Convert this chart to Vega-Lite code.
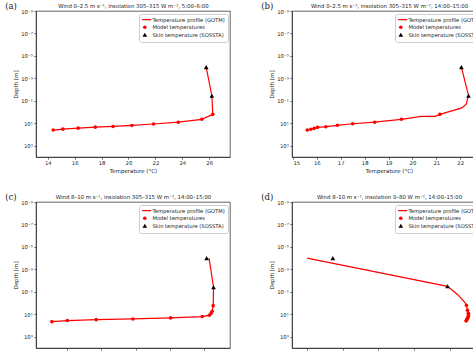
{
  "$schema": "https://vega.github.io/schema/vega-lite/v6.json",
  "padding": {"left": 4, "top": 1, "right": 0, "bottom": 0},
  "background": "white",
  "datasets": {
    "a": [
      {"s": "Temperature profile (GOTM)", "i": 0, "T": 25.78, "z": 0.0001},
      {"s": "Temperature profile (GOTM)", "i": 1, "T": 26.2, "z": 0.035},
      {"s": "Temperature profile (GOTM)", "i": 2, "T": 26.27, "z": 1.6},
      {"s": "Temperature profile (GOTM)", "i": 3, "T": 25.45, "z": 4.4},
      {"s": "Temperature profile (GOTM)", "i": 4, "T": 23.7, "z": 8},
      {"s": "Temperature profile (GOTM)", "i": 5, "T": 21.86, "z": 11.5},
      {"s": "Temperature profile (GOTM)", "i": 6, "T": 20.25, "z": 15.5},
      {"s": "Temperature profile (GOTM)", "i": 7, "T": 18.85, "z": 19},
      {"s": "Temperature profile (GOTM)", "i": 8, "T": 17.53, "z": 22},
      {"s": "Temperature profile (GOTM)", "i": 9, "T": 16.26, "z": 27},
      {"s": "Temperature profile (GOTM)", "i": 10, "T": 15.12, "z": 33},
      {"s": "Temperature profile (GOTM)", "i": 11, "T": 14.4, "z": 40},
      {"s": "Model temperatures", "T": 26.27, "z": 1.6},
      {"s": "Model temperatures", "T": 25.45, "z": 4.4},
      {"s": "Model temperatures", "T": 23.7, "z": 8},
      {"s": "Model temperatures", "T": 21.86, "z": 11.5},
      {"s": "Model temperatures", "T": 20.25, "z": 15.5},
      {"s": "Model temperatures", "T": 18.85, "z": 19},
      {"s": "Model temperatures", "T": 17.53, "z": 22},
      {"s": "Model temperatures", "T": 16.26, "z": 27},
      {"s": "Model temperatures", "T": 15.12, "z": 33},
      {"s": "Model temperatures", "T": 14.4, "z": 40},
      {"s": "Skin temperature (SOSSTA)", "T": 25.78, "z": 0.0001},
      {"s": "Skin temperature (SOSSTA)", "T": 26.2, "z": 0.035}
    ],
    "b": [
      {"s": "Temperature profile (GOTM)", "i": 0, "T": 22.05, "z": 0.0001},
      {"s": "Temperature profile (GOTM)", "i": 1, "T": 22.35, "z": 0.035},
      {"s": "Temperature profile (GOTM)", "i": 2, "T": 22.31, "z": 0.06},
      {"s": "Temperature profile (GOTM)", "i": 3, "T": 22.25, "z": 0.2},
      {"s": "Temperature profile (GOTM)", "i": 4, "T": 22.07, "z": 0.42},
      {"s": "Temperature profile (GOTM)", "i": 5, "T": 21.15, "z": 1.6},
      {"s": "Temperature profile (GOTM)", "i": 6, "T": 20.96, "z": 2.4},
      {"s": "Temperature profile (GOTM)", "i": 7, "T": 20.37, "z": 2.4},
      {"s": "Temperature profile (GOTM)", "i": 8, "T": 19.54, "z": 4.4},
      {"s": "Temperature profile (GOTM)", "i": 9, "T": 18.42, "z": 8},
      {"s": "Temperature profile (GOTM)", "i": 10, "T": 17.5, "z": 11},
      {"s": "Temperature profile (GOTM)", "i": 11, "T": 16.86, "z": 15},
      {"s": "Temperature profile (GOTM)", "i": 12, "T": 16.38, "z": 20},
      {"s": "Temperature profile (GOTM)", "i": 13, "T": 16.03, "z": 23},
      {"s": "Temperature profile (GOTM)", "i": 14, "T": 15.89, "z": 28},
      {"s": "Temperature profile (GOTM)", "i": 15, "T": 15.75, "z": 34},
      {"s": "Temperature profile (GOTM)", "i": 16, "T": 15.6, "z": 40},
      {"s": "Model temperatures", "T": 21.15, "z": 1.6},
      {"s": "Model temperatures", "T": 19.54, "z": 4.4},
      {"s": "Model temperatures", "T": 18.42, "z": 8},
      {"s": "Model temperatures", "T": 17.5, "z": 11},
      {"s": "Model temperatures", "T": 16.86, "z": 15},
      {"s": "Model temperatures", "T": 16.38, "z": 20},
      {"s": "Model temperatures", "T": 16.03, "z": 23},
      {"s": "Model temperatures", "T": 15.89, "z": 28},
      {"s": "Model temperatures", "T": 15.75, "z": 34},
      {"s": "Model temperatures", "T": 15.6, "z": 40},
      {"s": "Skin temperature (SOSSTA)", "T": 22.05, "z": 0.0001},
      {"s": "Skin temperature (SOSSTA)", "T": 22.35, "z": 0.035}
    ],
    "c": [
      {"s": "Temperature profile (GOTM)", "i": 0, "T": 23.14, "z": 0.0001},
      {"s": "Temperature profile (GOTM)", "i": 1, "T": 23.27, "z": 0.039},
      {"s": "Temperature profile (GOTM)", "i": 2, "T": 23.26, "z": 1.7},
      {"s": "Temperature profile (GOTM)", "i": 3, "T": 23.23, "z": 5.4},
      {"s": "Temperature profile (GOTM)", "i": 4, "T": 23.2, "z": 8},
      {"s": "Temperature profile (GOTM)", "i": 5, "T": 23.15, "z": 12},
      {"s": "Temperature profile (GOTM)", "i": 6, "T": 22.94, "z": 16},
      {"s": "Temperature profile (GOTM)", "i": 7, "T": 22.02, "z": 21},
      {"s": "Temperature profile (GOTM)", "i": 8, "T": 20.92, "z": 26},
      {"s": "Temperature profile (GOTM)", "i": 9, "T": 19.85, "z": 30},
      {"s": "Temperature profile (GOTM)", "i": 10, "T": 19.01, "z": 36},
      {"s": "Temperature profile (GOTM)", "i": 11, "T": 18.56, "z": 45},
      {"s": "Model temperatures", "T": 23.26, "z": 1.7},
      {"s": "Model temperatures", "T": 23.23, "z": 5.4},
      {"s": "Model temperatures", "T": 23.2, "z": 8},
      {"s": "Model temperatures", "T": 23.15, "z": 12},
      {"s": "Model temperatures", "T": 22.94, "z": 16},
      {"s": "Model temperatures", "T": 22.02, "z": 21},
      {"s": "Model temperatures", "T": 20.92, "z": 26},
      {"s": "Model temperatures", "T": 19.85, "z": 30},
      {"s": "Model temperatures", "T": 19.01, "z": 36},
      {"s": "Model temperatures", "T": 18.56, "z": 45},
      {"s": "Skin temperature (SOSSTA)", "T": 23.07, "z": 0.0001},
      {"s": "Skin temperature (SOSSTA)", "T": 23.27, "z": 0.039}
    ],
    "d": [
      {"s": "Temperature profile (GOTM)", "i": 0, "T": 17.2, "z": 0.0001},
      {"s": "Temperature profile (GOTM)", "i": 1, "T": 17.397, "z": 0.032},
      {"s": "Temperature profile (GOTM)", "i": 2, "T": 17.411, "z": 0.17},
      {"s": "Temperature profile (GOTM)", "i": 3, "T": 17.4215, "z": 0.9},
      {"s": "Temperature profile (GOTM)", "i": 4, "T": 17.4236, "z": 1.6},
      {"s": "Temperature profile (GOTM)", "i": 5, "T": 17.425, "z": 4.4},
      {"s": "Temperature profile (GOTM)", "i": 6, "T": 17.4262, "z": 8},
      {"s": "Temperature profile (GOTM)", "i": 7, "T": 17.4264, "z": 11},
      {"s": "Temperature profile (GOTM)", "i": 8, "T": 17.4262, "z": 15},
      {"s": "Temperature profile (GOTM)", "i": 9, "T": 17.4254, "z": 20},
      {"s": "Temperature profile (GOTM)", "i": 10, "T": 17.425, "z": 23},
      {"s": "Temperature profile (GOTM)", "i": 11, "T": 17.4243, "z": 28},
      {"s": "Temperature profile (GOTM)", "i": 12, "T": 17.4236, "z": 34},
      {"s": "Temperature profile (GOTM)", "i": 13, "T": 17.423, "z": 40},
      {"s": "Model temperatures", "T": 17.4236, "z": 1.6},
      {"s": "Model temperatures", "T": 17.425, "z": 4.4},
      {"s": "Model temperatures", "T": 17.4262, "z": 8},
      {"s": "Model temperatures", "T": 17.4264, "z": 11},
      {"s": "Model temperatures", "T": 17.4262, "z": 15},
      {"s": "Model temperatures", "T": 17.4254, "z": 20},
      {"s": "Model temperatures", "T": 17.425, "z": 23},
      {"s": "Model temperatures", "T": 17.4243, "z": 28},
      {"s": "Model temperatures", "T": 17.4236, "z": 34},
      {"s": "Model temperatures", "T": 17.423, "z": 40},
      {"s": "Skin temperature (SOSSTA)", "T": 17.236, "z": 0.0001},
      {"s": "Skin temperature (SOSSTA)", "T": 17.397, "z": 0.032}
    ]
  },
  "columns": 2,
  "spacing": {"row": 17, "column": 29},
  "resolve": {
    "scale": {"x": "independent", "y": "independent", "color": "independent", "shape": "independent"},
    "legend": {"color": "independent", "shape": "independent"}
  },
  "concat": [
    {
      "width": 194, "height": 146,
      "title": {"text": "(a)", "anchor": "start", "frame": "bounds", "font": "DejaVu Serif", "fontSize": 8.5, "fontWeight": "normal", "offset": 0, "dy": 6.5, "dx": -8, "color": "#222"},
      "data": {"name": "a"},
      "layer": [
        {
          "transform": [{"filter": "datum.s === 'Temperature profile (GOTM)'"}],
          "mark": {"type": "line", "strokeWidth": 1.2, "color": "#ff0000"},
          "encoding": {
            "x": {"field": "T", "type": "quantitative", "scale": {"domain": [13.12, 27.55], "nice": false, "zero": false}, "axis": {"orient": "bottom", "title": "Temperature (°C)", "values": [14, 16, 18, 20, 22, 24, 26]}},
            "y": {"field": "z", "type": "quantitative", "scale": {"type": "log", "domain": [1e-9, 10000], "reverse": true, "nice": false}, "axis": {"orient": "left", "title": "Depth [m]", "values": [1e-9, 1e-7, 1e-5, 0.001, 0.1, 10, 1000], "labelExpr": "'10' + replace(replace(replace(replace(replace(replace('' + round(log(datum.value)/LN10), '-', '⁻'), '1', '¹'), '3', '³'), '5', '⁵'), '7', '⁷'), '9', '⁹')"}},
            "order": {"field": "i", "type": "quantitative"},
            "color": {"field": "s", "type": "nominal", "scale": {"domain": ["Temperature profile (GOTM)", "Model temperatures", "Skin temperature (SOSSTA)"], "range": ["#ff0000", "#ff0000", "#000000"]}, "legend": {"title": null, "encode": {"symbols": {"update": {"size": {"signal": "datum.value === 'Temperature profile (GOTM)' ? 169 : datum.value === 'Model temperatures' ? 13 : 22"}, "strokeWidth": {"signal": "datum.value === 'Temperature profile (GOTM)' ? 1.3 : 0"}, "stroke": {"signal": "datum.value === 'Skin temperature (SOSSTA)' ? '#000000' : '#ff0000'"}, "fill": {"signal": "datum.value === 'Skin temperature (SOSSTA)' ? '#000000' : '#ff0000'"}}}}}}
          }
        },
        {
          "transform": [{"filter": "datum.s === 'Model temperatures'"}],
          "mark": {"type": "point", "filled": true, "size": 13, "opacity": 1},
          "encoding": {
            "x": {"field": "T", "type": "quantitative", "axis": null},
            "y": {"field": "z", "type": "quantitative", "axis": {"orient": "left", "title": "Depth [m]", "values": [1e-9, 1e-7, 1e-5, 0.001, 0.1, 10, 1000], "labelExpr": "'10' + replace(replace(replace(replace(replace(replace('' + round(log(datum.value)/LN10), '-', '⁻'), '1', '¹'), '3', '³'), '5', '⁵'), '7', '⁷'), '9', '⁹')"}},
            "color": {"field": "s", "type": "nominal", "scale": {"domain": ["Temperature profile (GOTM)", "Model temperatures", "Skin temperature (SOSSTA)"], "range": ["#ff0000", "#ff0000", "#000000"]}, "legend": {"title": null, "encode": {"symbols": {"update": {"size": {"signal": "datum.value === 'Temperature profile (GOTM)' ? 169 : datum.value === 'Model temperatures' ? 13 : 22"}, "strokeWidth": {"signal": "datum.value === 'Temperature profile (GOTM)' ? 1.3 : 0"}, "stroke": {"signal": "datum.value === 'Skin temperature (SOSSTA)' ? '#000000' : '#ff0000'"}, "fill": {"signal": "datum.value === 'Skin temperature (SOSSTA)' ? '#000000' : '#ff0000'"}}}}}},
            "shape": {"field": "s", "type": "nominal", "scale": {"domain": ["Temperature profile (GOTM)", "Model temperatures", "Skin temperature (SOSSTA)"], "range": ["stroke", "circle", "triangle-up"]}, "legend": {"title": null, "encode": {"symbols": {"update": {"size": {"signal": "datum.value === 'Temperature profile (GOTM)' ? 169 : datum.value === 'Model temperatures' ? 13 : 22"}, "strokeWidth": {"signal": "datum.value === 'Temperature profile (GOTM)' ? 1.3 : 0"}, "stroke": {"signal": "datum.value === 'Skin temperature (SOSSTA)' ? '#000000' : '#ff0000'"}, "fill": {"signal": "datum.value === 'Skin temperature (SOSSTA)' ? '#000000' : '#ff0000'"}}}}}}
          }
        },
        {
          "transform": [{"filter": "datum.s === 'Skin temperature (SOSSTA)'"}],
          "mark": {"type": "point", "filled": true, "size": 22, "opacity": 1},
          "encoding": {
            "x": {"field": "T", "type": "quantitative", "axis": {"orient": "top", "title": "Wind 0–2.5 m s⁻¹, insolation 305–315 W m⁻², 5:00–6:00", "labels": false, "ticks": false, "domain": false, "titlePadding": 2.5}},
            "y": {"field": "z", "type": "quantitative", "axis": {"orient": "left", "title": "Depth [m]", "values": [1e-9, 1e-7, 1e-5, 0.001, 0.1, 10, 1000], "labelExpr": "'10' + replace(replace(replace(replace(replace(replace('' + round(log(datum.value)/LN10), '-', '⁻'), '1', '¹'), '3', '³'), '5', '⁵'), '7', '⁷'), '9', '⁹')"}},
            "color": {"field": "s", "type": "nominal", "scale": {"domain": ["Temperature profile (GOTM)", "Model temperatures", "Skin temperature (SOSSTA)"], "range": ["#ff0000", "#ff0000", "#000000"]}, "legend": {"title": null, "encode": {"symbols": {"update": {"size": {"signal": "datum.value === 'Temperature profile (GOTM)' ? 169 : datum.value === 'Model temperatures' ? 13 : 22"}, "strokeWidth": {"signal": "datum.value === 'Temperature profile (GOTM)' ? 1.3 : 0"}, "stroke": {"signal": "datum.value === 'Skin temperature (SOSSTA)' ? '#000000' : '#ff0000'"}, "fill": {"signal": "datum.value === 'Skin temperature (SOSSTA)' ? '#000000' : '#ff0000'"}}}}}},
            "shape": {"field": "s", "type": "nominal", "scale": {"domain": ["Temperature profile (GOTM)", "Model temperatures", "Skin temperature (SOSSTA)"], "range": ["stroke", "circle", "triangle-up"]}, "legend": {"title": null, "encode": {"symbols": {"update": {"size": {"signal": "datum.value === 'Temperature profile (GOTM)' ? 169 : datum.value === 'Model temperatures' ? 13 : 22"}, "strokeWidth": {"signal": "datum.value === 'Temperature profile (GOTM)' ? 1.3 : 0"}, "stroke": {"signal": "datum.value === 'Skin temperature (SOSSTA)' ? '#000000' : '#ff0000'"}, "fill": {"signal": "datum.value === 'Skin temperature (SOSSTA)' ? '#000000' : '#ff0000'"}}}}}}
          }
        }
      ]
    },
    {
      "width": 194, "height": 146,
      "title": {"text": "(b)", "anchor": "start", "frame": "bounds", "font": "DejaVu Serif", "fontSize": 8.5, "fontWeight": "normal", "offset": 0, "dy": 6.5, "dx": -8, "color": "#222"},
      "data": {"name": "b"},
      "layer": [
        {
          "transform": [{"filter": "datum.s === 'Temperature profile (GOTM)'"}],
          "mark": {"type": "line", "strokeWidth": 1.2, "color": "#ff0000"},
          "encoding": {
            "x": {"field": "T", "type": "quantitative", "scale": {"domain": [14.96, 23.08], "nice": false, "zero": false}, "axis": {"orient": "bottom", "title": "Temperature (°C)", "values": [15, 16, 17, 18, 19, 20, 21, 22]}},
            "y": {"field": "z", "type": "quantitative", "scale": {"type": "log", "domain": [1e-9, 10000], "reverse": true, "nice": false}, "axis": {"orient": "left", "title": "Depth [m]", "values": [1e-9, 1e-7, 1e-5, 0.001, 0.1, 10, 1000], "labelExpr": "'10' + replace(replace(replace(replace(replace(replace('' + round(log(datum.value)/LN10), '-', '⁻'), '1', '¹'), '3', '³'), '5', '⁵'), '7', '⁷'), '9', '⁹')"}},
            "order": {"field": "i", "type": "quantitative"},
            "color": {"field": "s", "type": "nominal", "scale": {"domain": ["Temperature profile (GOTM)", "Model temperatures", "Skin temperature (SOSSTA)"], "range": ["#ff0000", "#ff0000", "#000000"]}, "legend": {"title": null, "encode": {"symbols": {"update": {"size": {"signal": "datum.value === 'Temperature profile (GOTM)' ? 169 : datum.value === 'Model temperatures' ? 13 : 22"}, "strokeWidth": {"signal": "datum.value === 'Temperature profile (GOTM)' ? 1.3 : 0"}, "stroke": {"signal": "datum.value === 'Skin temperature (SOSSTA)' ? '#000000' : '#ff0000'"}, "fill": {"signal": "datum.value === 'Skin temperature (SOSSTA)' ? '#000000' : '#ff0000'"}}}}}}
          }
        },
        {
          "transform": [{"filter": "datum.s === 'Model temperatures'"}],
          "mark": {"type": "point", "filled": true, "size": 13, "opacity": 1},
          "encoding": {
            "x": {"field": "T", "type": "quantitative", "axis": null},
            "y": {"field": "z", "type": "quantitative", "axis": {"orient": "left", "title": "Depth [m]", "values": [1e-9, 1e-7, 1e-5, 0.001, 0.1, 10, 1000], "labelExpr": "'10' + replace(replace(replace(replace(replace(replace('' + round(log(datum.value)/LN10), '-', '⁻'), '1', '¹'), '3', '³'), '5', '⁵'), '7', '⁷'), '9', '⁹')"}},
            "color": {"field": "s", "type": "nominal", "scale": {"domain": ["Temperature profile (GOTM)", "Model temperatures", "Skin temperature (SOSSTA)"], "range": ["#ff0000", "#ff0000", "#000000"]}, "legend": {"title": null, "encode": {"symbols": {"update": {"size": {"signal": "datum.value === 'Temperature profile (GOTM)' ? 169 : datum.value === 'Model temperatures' ? 13 : 22"}, "strokeWidth": {"signal": "datum.value === 'Temperature profile (GOTM)' ? 1.3 : 0"}, "stroke": {"signal": "datum.value === 'Skin temperature (SOSSTA)' ? '#000000' : '#ff0000'"}, "fill": {"signal": "datum.value === 'Skin temperature (SOSSTA)' ? '#000000' : '#ff0000'"}}}}}},
            "shape": {"field": "s", "type": "nominal", "scale": {"domain": ["Temperature profile (GOTM)", "Model temperatures", "Skin temperature (SOSSTA)"], "range": ["stroke", "circle", "triangle-up"]}, "legend": {"title": null, "encode": {"symbols": {"update": {"size": {"signal": "datum.value === 'Temperature profile (GOTM)' ? 169 : datum.value === 'Model temperatures' ? 13 : 22"}, "strokeWidth": {"signal": "datum.value === 'Temperature profile (GOTM)' ? 1.3 : 0"}, "stroke": {"signal": "datum.value === 'Skin temperature (SOSSTA)' ? '#000000' : '#ff0000'"}, "fill": {"signal": "datum.value === 'Skin temperature (SOSSTA)' ? '#000000' : '#ff0000'"}}}}}}
          }
        },
        {
          "transform": [{"filter": "datum.s === 'Skin temperature (SOSSTA)'"}],
          "mark": {"type": "point", "filled": true, "size": 22, "opacity": 1},
          "encoding": {
            "x": {"field": "T", "type": "quantitative", "axis": {"orient": "top", "title": "Wind 0–2.5 m s⁻¹, insolation 305–315 W m⁻², 14:00–15:00", "labels": false, "ticks": false, "domain": false, "titlePadding": 2.5}},
            "y": {"field": "z", "type": "quantitative", "axis": {"orient": "left", "title": "Depth [m]", "values": [1e-9, 1e-7, 1e-5, 0.001, 0.1, 10, 1000], "labelExpr": "'10' + replace(replace(replace(replace(replace(replace('' + round(log(datum.value)/LN10), '-', '⁻'), '1', '¹'), '3', '³'), '5', '⁵'), '7', '⁷'), '9', '⁹')"}},
            "color": {"field": "s", "type": "nominal", "scale": {"domain": ["Temperature profile (GOTM)", "Model temperatures", "Skin temperature (SOSSTA)"], "range": ["#ff0000", "#ff0000", "#000000"]}, "legend": {"title": null, "encode": {"symbols": {"update": {"size": {"signal": "datum.value === 'Temperature profile (GOTM)' ? 169 : datum.value === 'Model temperatures' ? 13 : 22"}, "strokeWidth": {"signal": "datum.value === 'Temperature profile (GOTM)' ? 1.3 : 0"}, "stroke": {"signal": "datum.value === 'Skin temperature (SOSSTA)' ? '#000000' : '#ff0000'"}, "fill": {"signal": "datum.value === 'Skin temperature (SOSSTA)' ? '#000000' : '#ff0000'"}}}}}},
            "shape": {"field": "s", "type": "nominal", "scale": {"domain": ["Temperature profile (GOTM)", "Model temperatures", "Skin temperature (SOSSTA)"], "range": ["stroke", "circle", "triangle-up"]}, "legend": {"title": null, "encode": {"symbols": {"update": {"size": {"signal": "datum.value === 'Temperature profile (GOTM)' ? 169 : datum.value === 'Model temperatures' ? 13 : 22"}, "strokeWidth": {"signal": "datum.value === 'Temperature profile (GOTM)' ? 1.3 : 0"}, "stroke": {"signal": "datum.value === 'Skin temperature (SOSSTA)' ? '#000000' : '#ff0000'"}, "fill": {"signal": "datum.value === 'Skin temperature (SOSSTA)' ? '#000000' : '#ff0000'"}}}}}}
          }
        }
      ]
    },
    {
      "width": 194, "height": 146,
      "title": {"text": "(c)", "anchor": "start", "frame": "bounds", "font": "DejaVu Serif", "fontSize": 8.5, "fontWeight": "normal", "offset": 0, "dy": 6.5, "dx": -8, "color": "#222"},
      "data": {"name": "c"},
      "layer": [
        {
          "transform": [{"filter": "datum.s === 'Temperature profile (GOTM)'"}],
          "mark": {"type": "line", "strokeWidth": 1.2, "color": "#ff0000"},
          "encoding": {
            "x": {"field": "T", "type": "quantitative", "scale": {"domain": [18.096, 23.75], "nice": false, "zero": false}, "axis": {"orient": "bottom", "title": "Temperature (°C)", "values": [19, 20, 21, 22, 23]}},
            "y": {"field": "z", "type": "quantitative", "scale": {"type": "log", "domain": [1e-9, 10000], "reverse": true, "nice": false}, "axis": {"orient": "left", "title": "Depth [m]", "values": [1e-9, 1e-7, 1e-5, 0.001, 0.1, 10, 1000], "labelExpr": "'10' + replace(replace(replace(replace(replace(replace('' + round(log(datum.value)/LN10), '-', '⁻'), '1', '¹'), '3', '³'), '5', '⁵'), '7', '⁷'), '9', '⁹')"}},
            "order": {"field": "i", "type": "quantitative"},
            "color": {"field": "s", "type": "nominal", "scale": {"domain": ["Temperature profile (GOTM)", "Model temperatures", "Skin temperature (SOSSTA)"], "range": ["#ff0000", "#ff0000", "#000000"]}, "legend": {"title": null, "encode": {"symbols": {"update": {"size": {"signal": "datum.value === 'Temperature profile (GOTM)' ? 169 : datum.value === 'Model temperatures' ? 13 : 22"}, "strokeWidth": {"signal": "datum.value === 'Temperature profile (GOTM)' ? 1.3 : 0"}, "stroke": {"signal": "datum.value === 'Skin temperature (SOSSTA)' ? '#000000' : '#ff0000'"}, "fill": {"signal": "datum.value === 'Skin temperature (SOSSTA)' ? '#000000' : '#ff0000'"}}}}}}
          }
        },
        {
          "transform": [{"filter": "datum.s === 'Model temperatures'"}],
          "mark": {"type": "point", "filled": true, "size": 13, "opacity": 1},
          "encoding": {
            "x": {"field": "T", "type": "quantitative", "axis": null},
            "y": {"field": "z", "type": "quantitative", "axis": {"orient": "left", "title": "Depth [m]", "values": [1e-9, 1e-7, 1e-5, 0.001, 0.1, 10, 1000], "labelExpr": "'10' + replace(replace(replace(replace(replace(replace('' + round(log(datum.value)/LN10), '-', '⁻'), '1', '¹'), '3', '³'), '5', '⁵'), '7', '⁷'), '9', '⁹')"}},
            "color": {"field": "s", "type": "nominal", "scale": {"domain": ["Temperature profile (GOTM)", "Model temperatures", "Skin temperature (SOSSTA)"], "range": ["#ff0000", "#ff0000", "#000000"]}, "legend": {"title": null, "encode": {"symbols": {"update": {"size": {"signal": "datum.value === 'Temperature profile (GOTM)' ? 169 : datum.value === 'Model temperatures' ? 13 : 22"}, "strokeWidth": {"signal": "datum.value === 'Temperature profile (GOTM)' ? 1.3 : 0"}, "stroke": {"signal": "datum.value === 'Skin temperature (SOSSTA)' ? '#000000' : '#ff0000'"}, "fill": {"signal": "datum.value === 'Skin temperature (SOSSTA)' ? '#000000' : '#ff0000'"}}}}}},
            "shape": {"field": "s", "type": "nominal", "scale": {"domain": ["Temperature profile (GOTM)", "Model temperatures", "Skin temperature (SOSSTA)"], "range": ["stroke", "circle", "triangle-up"]}, "legend": {"title": null, "encode": {"symbols": {"update": {"size": {"signal": "datum.value === 'Temperature profile (GOTM)' ? 169 : datum.value === 'Model temperatures' ? 13 : 22"}, "strokeWidth": {"signal": "datum.value === 'Temperature profile (GOTM)' ? 1.3 : 0"}, "stroke": {"signal": "datum.value === 'Skin temperature (SOSSTA)' ? '#000000' : '#ff0000'"}, "fill": {"signal": "datum.value === 'Skin temperature (SOSSTA)' ? '#000000' : '#ff0000'"}}}}}}
          }
        },
        {
          "transform": [{"filter": "datum.s === 'Skin temperature (SOSSTA)'"}],
          "mark": {"type": "point", "filled": true, "size": 22, "opacity": 1},
          "encoding": {
            "x": {"field": "T", "type": "quantitative", "axis": {"orient": "top", "title": "Wind 8–10 m s⁻¹, insolation 305–315 W m⁻², 14:00–15:00", "labels": false, "ticks": false, "domain": false, "titlePadding": 2.5}},
            "y": {"field": "z", "type": "quantitative", "axis": {"orient": "left", "title": "Depth [m]", "values": [1e-9, 1e-7, 1e-5, 0.001, 0.1, 10, 1000], "labelExpr": "'10' + replace(replace(replace(replace(replace(replace('' + round(log(datum.value)/LN10), '-', '⁻'), '1', '¹'), '3', '³'), '5', '⁵'), '7', '⁷'), '9', '⁹')"}},
            "color": {"field": "s", "type": "nominal", "scale": {"domain": ["Temperature profile (GOTM)", "Model temperatures", "Skin temperature (SOSSTA)"], "range": ["#ff0000", "#ff0000", "#000000"]}, "legend": {"title": null, "encode": {"symbols": {"update": {"size": {"signal": "datum.value === 'Temperature profile (GOTM)' ? 169 : datum.value === 'Model temperatures' ? 13 : 22"}, "strokeWidth": {"signal": "datum.value === 'Temperature profile (GOTM)' ? 1.3 : 0"}, "stroke": {"signal": "datum.value === 'Skin temperature (SOSSTA)' ? '#000000' : '#ff0000'"}, "fill": {"signal": "datum.value === 'Skin temperature (SOSSTA)' ? '#000000' : '#ff0000'"}}}}}},
            "shape": {"field": "s", "type": "nominal", "scale": {"domain": ["Temperature profile (GOTM)", "Model temperatures", "Skin temperature (SOSSTA)"], "range": ["stroke", "circle", "triangle-up"]}, "legend": {"title": null, "encode": {"symbols": {"update": {"size": {"signal": "datum.value === 'Temperature profile (GOTM)' ? 169 : datum.value === 'Model temperatures' ? 13 : 22"}, "strokeWidth": {"signal": "datum.value === 'Temperature profile (GOTM)' ? 1.3 : 0"}, "stroke": {"signal": "datum.value === 'Skin temperature (SOSSTA)' ? '#000000' : '#ff0000'"}, "fill": {"signal": "datum.value === 'Skin temperature (SOSSTA)' ? '#000000' : '#ff0000'"}}}}}}
          }
        }
      ]
    },
    {
      "width": 194, "height": 146,
      "title": {"text": "(d)", "anchor": "start", "frame": "bounds", "font": "DejaVu Serif", "fontSize": 8.5, "fontWeight": "normal", "offset": 0, "dy": 6.5, "dx": -8, "color": "#222"},
      "data": {"name": "d"},
      "layer": [
        {
          "transform": [{"filter": "datum.s === 'Temperature profile (GOTM)'"}],
          "mark": {"type": "line", "strokeWidth": 1.2, "color": "#ff0000"},
          "encoding": {
            "x": {"field": "T", "type": "quantitative", "scale": {"domain": [17.1787, 17.451], "nice": false, "zero": false}, "axis": {"orient": "bottom", "title": "Temperature (°C)", "values": [17.2, 17.25, 17.3, 17.35, 17.4], "format": ".2f"}},
            "y": {"field": "z", "type": "quantitative", "scale": {"type": "log", "domain": [1e-9, 10000], "reverse": true, "nice": false}, "axis": {"orient": "left", "title": "Depth [m]", "values": [1e-9, 1e-7, 1e-5, 0.001, 0.1, 10, 1000], "labelExpr": "'10' + replace(replace(replace(replace(replace(replace('' + round(log(datum.value)/LN10), '-', '⁻'), '1', '¹'), '3', '³'), '5', '⁵'), '7', '⁷'), '9', '⁹')"}},
            "order": {"field": "i", "type": "quantitative"},
            "color": {"field": "s", "type": "nominal", "scale": {"domain": ["Temperature profile (GOTM)", "Model temperatures", "Skin temperature (SOSSTA)"], "range": ["#ff0000", "#ff0000", "#000000"]}, "legend": {"title": null, "encode": {"symbols": {"update": {"size": {"signal": "datum.value === 'Temperature profile (GOTM)' ? 169 : datum.value === 'Model temperatures' ? 13 : 22"}, "strokeWidth": {"signal": "datum.value === 'Temperature profile (GOTM)' ? 1.3 : 0"}, "stroke": {"signal": "datum.value === 'Skin temperature (SOSSTA)' ? '#000000' : '#ff0000'"}, "fill": {"signal": "datum.value === 'Skin temperature (SOSSTA)' ? '#000000' : '#ff0000'"}}}}}}
          }
        },
        {
          "transform": [{"filter": "datum.s === 'Model temperatures'"}],
          "mark": {"type": "point", "filled": true, "size": 13, "opacity": 1},
          "encoding": {
            "x": {"field": "T", "type": "quantitative", "axis": null},
            "y": {"field": "z", "type": "quantitative", "axis": {"orient": "left", "title": "Depth [m]", "values": [1e-9, 1e-7, 1e-5, 0.001, 0.1, 10, 1000], "labelExpr": "'10' + replace(replace(replace(replace(replace(replace('' + round(log(datum.value)/LN10), '-', '⁻'), '1', '¹'), '3', '³'), '5', '⁵'), '7', '⁷'), '9', '⁹')"}},
            "color": {"field": "s", "type": "nominal", "scale": {"domain": ["Temperature profile (GOTM)", "Model temperatures", "Skin temperature (SOSSTA)"], "range": ["#ff0000", "#ff0000", "#000000"]}, "legend": {"title": null, "encode": {"symbols": {"update": {"size": {"signal": "datum.value === 'Temperature profile (GOTM)' ? 169 : datum.value === 'Model temperatures' ? 13 : 22"}, "strokeWidth": {"signal": "datum.value === 'Temperature profile (GOTM)' ? 1.3 : 0"}, "stroke": {"signal": "datum.value === 'Skin temperature (SOSSTA)' ? '#000000' : '#ff0000'"}, "fill": {"signal": "datum.value === 'Skin temperature (SOSSTA)' ? '#000000' : '#ff0000'"}}}}}},
            "shape": {"field": "s", "type": "nominal", "scale": {"domain": ["Temperature profile (GOTM)", "Model temperatures", "Skin temperature (SOSSTA)"], "range": ["stroke", "circle", "triangle-up"]}, "legend": {"title": null, "encode": {"symbols": {"update": {"size": {"signal": "datum.value === 'Temperature profile (GOTM)' ? 169 : datum.value === 'Model temperatures' ? 13 : 22"}, "strokeWidth": {"signal": "datum.value === 'Temperature profile (GOTM)' ? 1.3 : 0"}, "stroke": {"signal": "datum.value === 'Skin temperature (SOSSTA)' ? '#000000' : '#ff0000'"}, "fill": {"signal": "datum.value === 'Skin temperature (SOSSTA)' ? '#000000' : '#ff0000'"}}}}}}
          }
        },
        {
          "transform": [{"filter": "datum.s === 'Skin temperature (SOSSTA)'"}],
          "mark": {"type": "point", "filled": true, "size": 22, "opacity": 1},
          "encoding": {
            "x": {"field": "T", "type": "quantitative", "axis": {"orient": "top", "title": "Wind 8–10 m s⁻¹, insolation 0–80 W m⁻², 14:00–15:00", "labels": false, "ticks": false, "domain": false, "titlePadding": 2.5}},
            "y": {"field": "z", "type": "quantitative", "axis": {"orient": "left", "title": "Depth [m]", "values": [1e-9, 1e-7, 1e-5, 0.001, 0.1, 10, 1000], "labelExpr": "'10' + replace(replace(replace(replace(replace(replace('' + round(log(datum.value)/LN10), '-', '⁻'), '1', '¹'), '3', '³'), '5', '⁵'), '7', '⁷'), '9', '⁹')"}},
            "color": {"field": "s", "type": "nominal", "scale": {"domain": ["Temperature profile (GOTM)", "Model temperatures", "Skin temperature (SOSSTA)"], "range": ["#ff0000", "#ff0000", "#000000"]}, "legend": {"title": null, "encode": {"symbols": {"update": {"size": {"signal": "datum.value === 'Temperature profile (GOTM)' ? 169 : datum.value === 'Model temperatures' ? 13 : 22"}, "strokeWidth": {"signal": "datum.value === 'Temperature profile (GOTM)' ? 1.3 : 0"}, "stroke": {"signal": "datum.value === 'Skin temperature (SOSSTA)' ? '#000000' : '#ff0000'"}, "fill": {"signal": "datum.value === 'Skin temperature (SOSSTA)' ? '#000000' : '#ff0000'"}}}}}},
            "shape": {"field": "s", "type": "nominal", "scale": {"domain": ["Temperature profile (GOTM)", "Model temperatures", "Skin temperature (SOSSTA)"], "range": ["stroke", "circle", "triangle-up"]}, "legend": {"title": null, "encode": {"symbols": {"update": {"size": {"signal": "datum.value === 'Temperature profile (GOTM)' ? 169 : datum.value === 'Model temperatures' ? 13 : 22"}, "strokeWidth": {"signal": "datum.value === 'Temperature profile (GOTM)' ? 1.3 : 0"}, "stroke": {"signal": "datum.value === 'Skin temperature (SOSSTA)' ? '#000000' : '#ff0000'"}, "fill": {"signal": "datum.value === 'Skin temperature (SOSSTA)' ? '#000000' : '#ff0000'"}}}}}}
          }
        }
      ]
    }
  ],
  "config": {
    "font": "DejaVu Sans",
    "view": {"stroke": "#222222", "strokeWidth": 0.7},
    "axis": {"labelFont": "DejaVu Sans", "titleFont": "DejaVu Sans", "labelFontSize": 5.3, "titleFontSize": 5.5, "labelColor": "#222222", "titleColor": "#222222", "titleFontWeight": "normal", "domainColor": "#222222", "domainWidth": 0.7, "tickColor": "#222222", "tickWidth": 0.6, "tickSize": 2.2, "labelPadding": 1.5, "titlePadding": 2.5, "grid": false},
    "axisTop": {"titleFontSize": 5.4},
    "legend": {"orient": "top-right", "offset": 2.5, "clipHeight": 5, "rowPadding": 1.5, "padding": 3.2, "labelOffset": 5, "symbolSize": 169, "labelFont": "DejaVu Sans", "labelFontSize": 5.2, "labelColor": "#222222", "strokeColor": "#cccccc", "fillColor": "#ffffff", "cornerRadius": 2, "labelLimit": 300, "symbolStrokeWidth": 1.3}
  }
}
